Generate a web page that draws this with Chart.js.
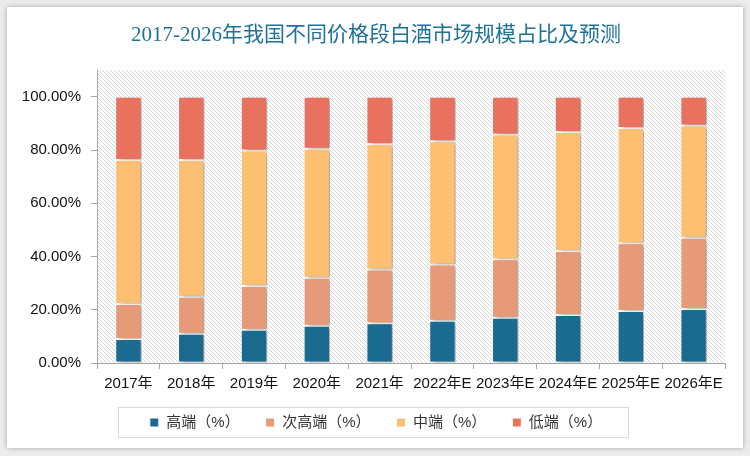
<!DOCTYPE html>
<html>
<head>
<meta charset="utf-8">
<script src="https://cdn.jsdelivr.net/npm/chart.js@4"></script>
<style>
  html, body { margin: 0; padding: 0; background: #ececec; }
  #card {
    position: absolute; left: 7px; top: 7px; width: 736px; height: 441px;
    background: #fff; box-shadow: 0 0 5px rgba(0,0,0,0.3);
  }
  #wrap { position: absolute; left: 0; top: 0; width: 750px; height: 456px; }
</style>
</head>
<body>
<div id="card"></div>
<div id="wrap"><canvas id="share-chart" width="750" height="456"></canvas></div>
<script>
// 2017-2026 baijiu market share by price segment

const years = ['2017年', '2018年', '2019年', '2020年', '2021年', '2022年E', '2023年E', '2024年E', '2025年E', '2026年E'];
const highEnd = [9.0, 11.0, 12.5, 14.0, 14.9, 15.9, 17.0, 18.0, 19.5, 20.3];
const subHighEnd = [13.2, 13.9, 16.4, 18.0, 20.2, 21.1, 22.0, 24.1, 25.5, 26.8];
const midEnd = [54.1, 51.4, 50.9, 48.5, 47.2, 46.3, 46.8, 44.7, 43.3, 42.1];
const lowEnd = [23.7, 23.7, 20.2, 19.5, 17.7, 16.7, 14.2, 13.2, 11.7, 10.8];
const yTicks = [0, 20, 40, 60, 80, 100];

const fontFamily = '"Liberation Sans", "Noto Sans CJK SC", sans-serif';

// diagonal hatch used behind the bars
function makeHatch(ctx) {
    const tile = document.createElement('canvas');
    tile.width = 4;
    tile.height = 4;
    const t = tile.getContext('2d');
    t.fillStyle = '#ffffff';
    t.fillRect(0, 0, 4, 4);
    t.strokeStyle = '#d6d6d6';
    t.lineWidth = 1;
    t.beginPath();
    t.moveTo(0, 0); t.lineTo(4, 4);
    t.moveTo(-1, 3); t.lineTo(1, 5);
    t.moveTo(3, -1); t.lineTo(5, 1);
    t.stroke();
    return ctx.createPattern(tile, 'repeat');
}

const hatchPlugin = {
    id: 'hatch',
    beforeDraw(chart) {
        const {ctx, chartArea} = chart;
        ctx.save();
        ctx.fillStyle = makeHatch(ctx);
        ctx.fillRect(chartArea.left, chartArea.top, chartArea.right - chartArea.left, chartArea.bottom - chartArea.top);
        ctx.restore();
    }
};

const shadowPlugin = {
    id: 'barShadow',
    beforeDatasetsDraw(chart) {
        const ctx = chart.ctx;
        ctx.save();
        ctx.shadowColor = 'rgba(0,0,0,0.35)';
        ctx.shadowBlur = 4;
        ctx.shadowOffsetX = 4;
        ctx.shadowOffsetY = 1;
    },
    afterDatasetsDraw(chart) {
        chart.ctx.restore();
    }
};

// title and legend are centred on the card, not on the plot
const centerPlugin = {
    id: 'centerBlocks',
    afterLayout(chart) {
        if (chart.titleBlock) {
            chart.titleBlock.left = 0;
            chart.titleBlock.right = 752;
        }
        if (chart.legend) {
            chart.legend.left = 27;
            chart.legend.right = 725;
        }
    }
};

const legendBoxPlugin = {
    id: 'legendBox',
    afterDraw(chart) {
        const lg = chart.legend;
        if (!lg || !lg.legendHitBoxes.length) return;
        const boxes = lg.legendHitBoxes;
        const ctx = chart.ctx;
        const midY = boxes[0].top + boxes[0].height / 2;
        ctx.save();
        ctx.strokeStyle = '#d9d9d9';
        ctx.lineWidth = 1;
        ctx.strokeRect(118.5, Math.round(midY) - 15.5, 510, 30);
        ctx.restore();
    }
};

const ctx = document.getElementById('share-chart').getContext('2d');

function barSet(label, data, color) {
    return {
        label: label,
        data: data,
        backgroundColor: color,
        borderColor: '#ffffff',
        borderWidth: 1,
        borderSkipped: false,
        barPercentage: 0.42,
        categoryPercentage: 1.0
    };
}

const shareChart = new Chart(ctx, {
    type: 'bar',
    data: {
        labels: years,
        datasets: [
            barSet('高端（%）', highEnd, '#1b6b90'),
            barSet('次高端（%）', subHighEnd, '#e79a78'),
            barSet('中端（%）', midEnd, '#fdbf71'),
            barSet('低端（%）', lowEnd, '#e9725f')
        ]
    },
    options: {
        responsive: false,
        animation: false,
        layout: { padding: { left: 0, right: 25, top: 0, bottom: 16 } },
        plugins: {
            title: {
                display: true,
                text: '2017-2026年我国不同价格段白酒市场规模占比及预测',
                color: '#1f7199',
                font: { family: '"Liberation Serif", "Noto Sans CJK SC", serif', size: 21, weight: 'normal' },
                padding: { top: 23, bottom: 22 }
            },
            legend: {
                position: 'bottom',
                labels: {
                    boxWidth: 9,
                    boxHeight: 9,
                    padding: 26,
                    color: '#333',
                    font: { family: fontFamily, size: 15 }
                }
            },
            tooltip: { enabled: false }
        },
        scales: {
            x: {
                stacked: true,
                afterFit(scale) {
                    scale.height = scale.height - 10;
                },
                grid: { display: true, drawOnChartArea: false, tickLength: 6, color: '#a6a6a6' },
                border: { display: true, color: '#a6a6a6' },
                ticks: {
                    autoSkip: false,
                    maxRotation: 0,
                    padding: 6,
                    color: '#111',
                    font: { family: fontFamily, size: 15 }
                }
            },
            y: {
                stacked: true,
                min: 0,
                max: 110,
                afterBuildTicks(scale) {
                    scale.ticks = yTicks.map(v => ({ value: v }));
                },
                afterFit(scale) {
                    scale.width = 97;
                },
                grid: { display: true, drawOnChartArea: false, tickLength: 6, color: '#a6a6a6' },
                border: { display: true, color: '#a6a6a6' },
                ticks: {
                    padding: 10,
                    color: '#111',
                    font: { family: fontFamily, size: 15 },
                    callback: v => v.toFixed(2) + '%'
                }
            }
        }
    },
    plugins: [hatchPlugin, shadowPlugin, centerPlugin, legendBoxPlugin]
});
</script>
</body>
</html>
